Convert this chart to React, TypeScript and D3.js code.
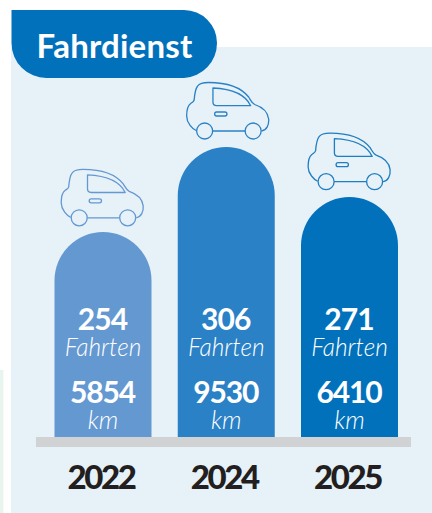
import React from "react";
import * as d3 from "d3";

const years = ["2022", "2024", "2025"];
const fahrten = [254, 306, 271];
const kilometer = [5854, 9530, 6410];
const barColors = ["#6498d1", "#2a81c6", "#0271bb"];
const carColors = ["#6498d1", "#2a81c6", "#1f7dc1"];
const title = "Fahrdienst";
const tripLabel = "Fahrten";
const kmLabel = "km";

const W = 432;
const H = 513;
const BASE = 437;
const NUM = "Lato, 'Open Sans', sans-serif";
const CAR_DX = [0.2, 2.4, 0.6];
const CAR_GAP = [14.2, 16, 15.3];

const x = d3.scaleBand<string>().domain(years).range([54.5, 398]).paddingInner(0.213).paddingOuter(0);
// Die Säulen der Vorlage folgen nur grob den Werten: stückweise lineare Skala.
const h = d3.scaleLinear().domain([254, 271, 306]).range([205, 240, 290]);

const body =
  "M-32.5 -0.5 C-36 -2 -42 -8 -42 -15 C-42 -20 -41.5 -25 -38 -27.5 C-36 -29 -35 -29 -34.5 -31 " +
  "C-34 -37 -33.5 -42 -31 -45 C-29 -48 -25 -48.5 -20 -48.5 C-2 -48.5 12 -44 20 -34 " +
  "C22 -31 23 -28 26 -26.5 C32 -24.5 39 -20 40 -12 C40.5 -6 38 -1 33 0 M-16 0 L16.5 0";
const windowPath = "M-15.7 -43 L-15.7 -29 Q-15.7 -25.3 -12 -25.3 L22 -25.3 C17 -36 5 -42 -15.7 -43 Z";

function barPath(px: number, top: number, w: number) {
  const p = d3.path();
  const r = w / 2;
  p.moveTo(px, BASE);
  p.lineTo(px, top + r);
  p.arc(px + r, top + r, r, Math.PI, 0);
  p.lineTo(px + w, BASE);
  p.closePath();
  return p.toString();
}

function Car({ cx, cy, color }: { cx: number; cy: number; color: string }) {
  return (
    <g transform={`translate(${cx},${cy})`} fill="none" stroke={color} strokeWidth={1.3} strokeLinejoin="round">
      <path d={body} />
      <path d={windowPath} />
      <rect x={-14} y={-19} width={12.3} height={4} rx={2} />
      <circle cx={-24} cy={0} r={8} />
      <circle cx={24.5} cy={0} r={8} />
    </g>
  );
}

export default function App() {
  const bw = x.bandwidth();
  return (
    <svg
      width={W}
      height={H}
      viewBox={`0 0 ${W} ${H}`}
      style={{ position: "fixed", left: 0, top: 0, display: "block", background: "#fff" }}
    >
      <rect x={0} y={370} width={3.4} height={143} fill="#e8f5ee" />
      <rect x={11} y={47} width={421} height={466} fill="#e6f1f8" />
      <path
        d="M11.5 10 H184 A33 33 0 0 1 217 43 A35 35 0 0 1 184 78 H46.5 A35 35 0 0 1 11.5 43 Z"
        fill="#0271bb"
      />
      <text x={114.5} y={57.5} textAnchor="middle" fill="#fff" fontFamily={NUM} fontWeight={700} fontSize={33} letterSpacing={0.2}>
        {title}
      </text>
      {years.map((yr, i) => {
        const px = x(yr) as number;
        const cx = px + bw / 2;
        const top = BASE - h(fahrten[i]);
        return (
          <g key={yr}>
            <Car cx={cx + CAR_DX[i]} cy={top - CAR_GAP[i]} color={carColors[i]} />
            <path d={barPath(px, top, bw)} fill={barColors[i]} />
          </g>
        );
      })}
      <rect x={36} y={437} width={375} height={10} fill="#d1d2d4" />
      {years.map((yr, i) => {
        const cx = (x(yr) as number) + bw / 2;
        return (
          <g key={yr} textAnchor="middle">
            <text x={cx - 0.5} y={330} fill="#fff" fontFamily={NUM} fontWeight={700} fontSize={30} letterSpacing={-0.9}>
              {fahrten[i]}
            </text>
            <text x={cx} y={356} fill="#fff" fontFamily={NUM} fontWeight={300} fontStyle="italic" fontSize={24.5}>
              {tripLabel}
            </text>
            <text x={cx - 0.5} y={403} fill="#fff" fontFamily={NUM} fontWeight={700} fontSize={30} letterSpacing={-1.1}>
              {kilometer[i]}
            </text>
            <text x={cx} y={429} fill="#fff" fontFamily={NUM} fontWeight={300} fontStyle="italic" fontSize={25}>
              {kmLabel}
            </text>
            <text x={cx - 2} y={489} fill="#231f20" fontFamily={NUM} fontWeight={900} fontSize={33} letterSpacing={-2.4}>
              {yr}
            </text>
          </g>
        );
      })}
    </svg>
  );
}
